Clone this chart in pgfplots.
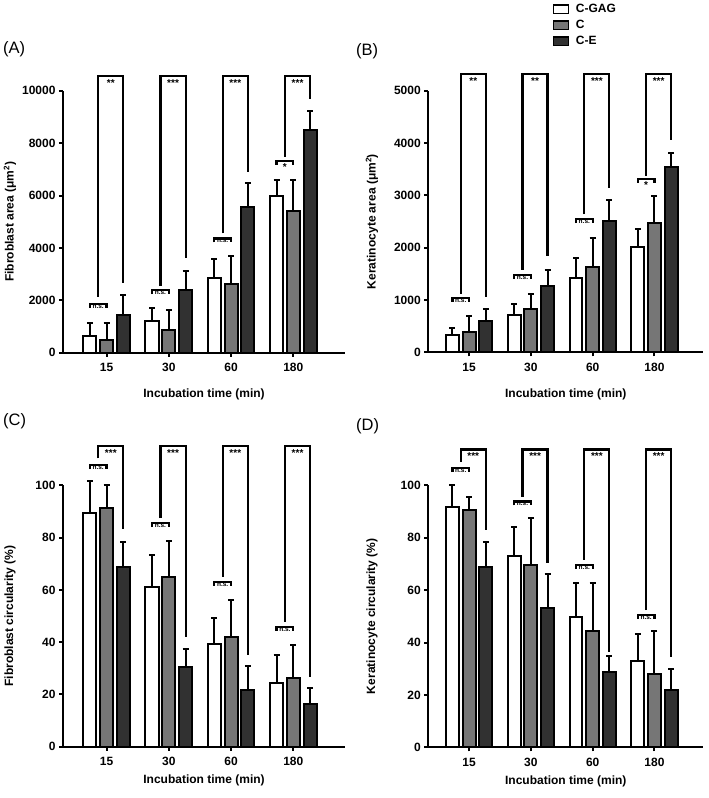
\documentclass[border=0pt]{standalone}
\usepackage{fontspec}
\setmainfont{Liberation Sans}
\usepackage{pgfplots}
\pgfplotsset{compat=1.18}
\definecolor{cgray}{HTML}{767676}
\definecolor{cdark}{HTML}{313131}
\pgfplotsset{
  panel/.style={
    scale only axis, axis lines=left, axis line style={-, line width=2.2pt},
    clip=false, ymin=0, xmin=-0.70, xmax=3.83,
    xtick={0,1,2,3}, xticklabels={15,30,60,180},
    tick align=outside, major tick length=4pt,
    every tick/.style={line width=2pt, black},
    tick label style={font=\bfseries\fontsize{12}{14}\selectfont},
    xticklabel style={yshift=-3pt},
    /pgf/number format/assume math mode=true,
    scaled y ticks=false, /pgf/number format/1000 sep={},
    xlabel={Incubation time (min)},
    every axis y label/.style={rotate=90, anchor=center, at={(axis description cs:-0.188,0.5)}, font=\bfseries\fontsize{12}{14}\selectfont},
    every axis x label/.style={anchor=center, at={(axis description cs:0.5,0)}, yshift=-42pt, font=\bfseries\fontsize{12}{14}\selectfont},
  },
  bar/.style={ybar, bar width=0.21, bar shift=0, line width=2pt, draw=black},
  ebar/.style={error bars/.cd, y dir=plus, y explicit, error bar style={line width=2pt, black}, error mark options={rotate=90, line width=2pt, black, mark size=3pt}},
  brk/.style={line width=2.2pt, black, mark=none, sharp plot, forget plot},
}
\tikzset{
  ns/.style={anchor=north, inner sep=0.6pt, font=\bfseries\fontsize{6.5}{7}\selectfont},
  st/.style={anchor=north, inner sep=0pt, yshift=-3pt, font=\bfseries\fontsize{10}{10}\selectfont},
}
\begin{document}
\begin{tikzpicture}
\useasboundingbox (0,0) rectangle (709pt,-798pt);
\node[anchor=west, inner sep=0pt, font=\fontsize{16.5}{18}\selectfont] at (3pt,-49pt) {(A)};
\node[anchor=west, inner sep=0pt, font=\fontsize{16.5}{18}\selectfont] at (356pt,-51pt) {(B)};
\node[anchor=west, inner sep=0pt, font=\fontsize{16.5}{18}\selectfont] at (3pt,-421pt) {(C)};
\node[anchor=west, inner sep=0pt, font=\fontsize{16.5}{18}\selectfont] at (356pt,-426pt) {(D)};

% ---------------- Panel A
\begin{axis}[panel, at={(63pt,-352.7pt)}, anchor=south west, width=282pt, height=262pt,
  ymax=10000, ytick={0,2000,4000,6000,8000,10000},
  ylabel={Fibroblast area (μm\textsuperscript{2})}]
\addplot[bar, fill=white, ebar] table[x=x, y=y, y error=e] {
x y e
-0.27 650 470
0.73 1200 490
1.73 2850 720
2.73 6000 590
};
\addplot[bar, fill=cgray, ebar] table[x=x, y=y, y error=e] {
x y e
0 480 670
1 870 770
2 2640 1040
3 5410 1180
};
\addplot[bar, fill=cdark, ebar] table[x=x, y=y, y error=e] {
x y e
0.27 1450 750
1.27 2380 750
2.27 5550 930
3.27 8500 720
};
\addplot[brk] coordinates {(-0.27,1710) (-0.27,1860) (0,1860) (0,1710)};
\addplot[brk] coordinates {(-0.135,2140) (-0.135,10560) (0.27,10560) (0.27,2650)};
\addplot[brk] coordinates {(0.73,2240) (0.73,2390) (1,2390) (1,2240)};
\addplot[brk] coordinates {(0.865,2545) (0.865,10560) (1.27,10560) (1.27,3600)};
\addplot[brk] coordinates {(1.73,4210) (1.73,4360) (2,4360) (2,4210)};
\addplot[brk] coordinates {(1.865,4550) (1.865,10560) (2.27,10560) (2.27,6900)};
\addplot[brk] coordinates {(2.73,7180) (2.73,7330) (3,7330) (3,7180)};
\addplot[brk] coordinates {(2.865,7480) (2.865,10560) (3.27,10560) (3.27,9670)};
\node[ns] at (axis cs:-0.135,1860) {n.s.};
\node[ns] at (axis cs:0.865,2390) {n.s.};
\node[ns] at (axis cs:1.865,4360) {n.s.};
\node[st] at (axis cs:2.865,7330) {*};
\node[st] at (axis cs:0.068,10560) {**};
\node[st] at (axis cs:1.068,10560) {***};
\node[st] at (axis cs:2.068,10560) {***};
\node[st] at (axis cs:3.068,10560) {***};
\end{axis}

% ---------------- Panel B
\begin{axis}[panel, at={(428.3pt,-352.3pt)}, anchor=south west, width=275pt, height=261.6pt,
  xmin=-0.66, xmax=3.79,
  ymax=5000, ytick={0,1000,2000,3000,4000,5000},
  every axis y label/.style={rotate=90, anchor=center, at={(axis description cs:-0.205,0.5)}, font=\bfseries\fontsize{12}{14}\selectfont},
  ylabel={Keratinocyte area (μm\textsuperscript{2})},
  legend style={at={(rel axis cs:0.4535,1.34)}, anchor=north west, draw=none, fill=none,
    inner sep=0pt, outer sep=0pt, row sep=1.5pt,
    font=\bfseries\fontsize{12}{14}\selectfont,
    nodes={text height=9pt, text depth=2.5pt, inner sep=1.5pt},
    /tikz/every odd column/.style={column sep=5pt}},
  legend cell align=left,
  legend image code/.code={\draw[#1, /tikz/.cd, line width=1.4pt, draw=black] (0pt,-4.2pt) rectangle (15pt,4.2pt);}]
\addplot[bar, fill=white, ebar] table[x=x, y=y, y error=e] {
x y e
-0.27 340 126
0.73 705 225
1.73 1420 380
2.73 2010 350
};
\addlegendentry{C-GAG}
\addplot[bar, fill=cgray, ebar] table[x=x, y=y, y error=e] {
x y e
0 395 295
1 820 300
2 1630 550
3 2470 510
};
\addlegendentry{C}
\addplot[bar, fill=cdark, ebar] table[x=x, y=y, y error=e] {
x y e
0.27 600 220
1.27 1260 320
2.27 2510 400
3.27 3550 260
};
\addlegendentry{C-E}
\addplot[brk] coordinates {(-0.27,964) (-0.27,1040) (0,1040) (0,964)};
\addplot[brk] coordinates {(-0.135,1116) (-0.135,5314) (0.27,5314) (0.27,1064)};
\addplot[brk] coordinates {(0.73,1404) (0.73,1480) (1,1480) (1,1404)};
\addplot[brk] coordinates {(0.865,1580) (0.865,5314) (1.27,5314) (1.27,1840)};
\addplot[brk] coordinates {(1.73,2469) (1.73,2545) (2,2545) (2,2469)};
\addplot[brk] coordinates {(1.865,2640) (1.865,5314) (2.27,5314) (2.27,3140)};
\addplot[brk] coordinates {(2.73,3238) (2.73,3314) (3,3314) (3,3238)};
\addplot[brk] coordinates {(2.865,3378) (2.865,5314) (3.27,5314) (3.27,4051)};
\node[ns] at (axis cs:-0.135,1040) {n.s.};
\node[ns] at (axis cs:0.865,1480) {n.s.};
\node[ns] at (axis cs:1.865,2545) {n.s.};
\node[st] at (axis cs:2.865,3314) {*};
\node[st] at (axis cs:0.068,5314) {**};
\node[st] at (axis cs:1.068,5314) {**};
\node[st] at (axis cs:2.068,5314) {***};
\node[st] at (axis cs:3.068,5314) {***};
\end{axis}

% ---------------- Panel C
\begin{axis}[panel, at={(63pt,-746.7pt)}, anchor=south west, width=282pt, height=261.4pt,
  ymax=100, ytick={0,20,40,60,80,100},
  every axis x label/.style={anchor=center, at={(axis description cs:0.5,0)}, yshift=-34pt, font=\bfseries\fontsize{12}{14}\selectfont},
  ylabel={Fibroblast circularity (\%)}]
\addplot[bar, fill=white, ebar] table[x=x, y=y, y error=e] {
x y e
-0.27 89.5 12.2
0.73 61.2 12.1
1.73 39.3 10.1
2.73 24.2 10.9
};
\addplot[bar, fill=cgray, ebar] table[x=x, y=y, y error=e] {
x y e
0 91.5 8.5
1 64.8 13.9
2 41.8 14.3
3 26.1 12.8
};
\addplot[bar, fill=cdark, ebar] table[x=x, y=y, y error=e] {
x y e
0.27 68.9 9.5
1.27 30.6 6.6
2.27 21.7 9.2
3.27 16.3 6.0
};
\addplot[brk] coordinates {(-0.27,106.2) (-0.27,107.7) (0,107.7) (0,106.2)};
\addplot[brk] coordinates {(-0.135,110.3) (-0.135,115) (0.27,115) (0.27,83.2)};
\addplot[brk] coordinates {(0.73,84) (0.73,85.5) (1,85.5) (1,84)};
\addplot[brk] coordinates {(0.865,87.4) (0.865,115) (1.27,115) (1.27,41.8)};
\addplot[brk] coordinates {(1.73,61.6) (1.73,63.1) (2,63.1) (2,61.6)};
\addplot[brk] coordinates {(1.865,65) (1.865,115) (2.27,115) (2.27,35.1)};
\addplot[brk] coordinates {(2.73,44.4) (2.73,45.9) (3,45.9) (3,44.4)};
\addplot[brk] coordinates {(2.865,47.8) (2.865,115) (3.27,115) (3.27,26.8)};
\node[ns] at (axis cs:-0.135,107.7) {n.s.};
\node[ns] at (axis cs:0.865,85.5) {n.s.};
\node[ns] at (axis cs:1.865,63.1) {n.s.};
\node[ns] at (axis cs:2.865,45.9) {n.s.};
\node[st] at (axis cs:0.068,115) {***};
\node[st] at (axis cs:1.068,115) {***};
\node[st] at (axis cs:2.068,115) {***};
\node[st] at (axis cs:3.068,115) {***};
\end{axis}

% ---------------- Panel D
\begin{axis}[panel, at={(428.3pt,-747.3pt)}, anchor=south west, width=275pt, height=262pt,
  xmin=-0.66, xmax=3.79,
  ymax=100, ytick={0,20,40,60,80,100},
  every axis y label/.style={rotate=90, anchor=center, at={(axis description cs:-0.205,0.5)}, font=\bfseries\fontsize{12}{14}\selectfont},
  every axis x label/.style={anchor=center, at={(axis description cs:0.5,0)}, yshift=-34pt, font=\bfseries\fontsize{12}{14}\selectfont},
  ylabel={Keratinocyte circularity (\%)}]
\addplot[bar, fill=white, ebar] table[x=x, y=y, y error=e] {
x y e
-0.27 91.9 8.1
0.73 73.0 11.2
1.73 49.9 12.9
2.73 33.0 10.1
};
\addplot[bar, fill=cgray, ebar] table[x=x, y=y, y error=e] {
x y e
0 90.6 4.8
1 69.6 17.8
2 44.4 18.4
3 28.0 16.5
};
\addplot[bar, fill=cdark, ebar] table[x=x, y=y, y error=e] {
x y e
0.27 69.0 9.5
1.27 53.0 13.2
2.27 28.9 6.1
3.27 21.9 7.9
};
\addplot[brk] coordinates {(-0.27,105) (-0.27,106.5) (0,106.5) (0,105)};
\addplot[brk] coordinates {(-0.135,109) (-0.135,113.7) (0.27,113.7) (0.27,83)};
\addplot[brk] coordinates {(0.73,92.3) (0.73,93.8) (1,93.8) (1,92.3)};
\addplot[brk] coordinates {(0.865,95.7) (0.865,113.7) (1.27,113.7) (1.27,70.2)};
\addplot[brk] coordinates {(1.73,68.1) (1.73,69.6) (2,69.6) (2,68.1)};
\addplot[brk] coordinates {(1.865,71.5) (1.865,113.7) (2.27,113.7) (2.27,36.5)};
\addplot[brk] coordinates {(2.73,49) (2.73,50.5) (3,50.5) (3,49)};
\addplot[brk] coordinates {(2.865,52.4) (2.865,113.7) (3.27,113.7) (3.27,34.6)};
\node[ns] at (axis cs:-0.135,106.5) {n.s.};
\node[ns] at (axis cs:0.865,93.8) {n.s.};
\node[ns] at (axis cs:1.865,69.6) {n.s.};
\node[ns] at (axis cs:2.865,50.5) {n.s.};
\node[st] at (axis cs:0.068,113.7) {***};
\node[st] at (axis cs:1.068,113.7) {***};
\node[st] at (axis cs:2.068,113.7) {***};
\node[st] at (axis cs:3.068,113.7) {***};
\end{axis}
\end{tikzpicture}
\end{document}
